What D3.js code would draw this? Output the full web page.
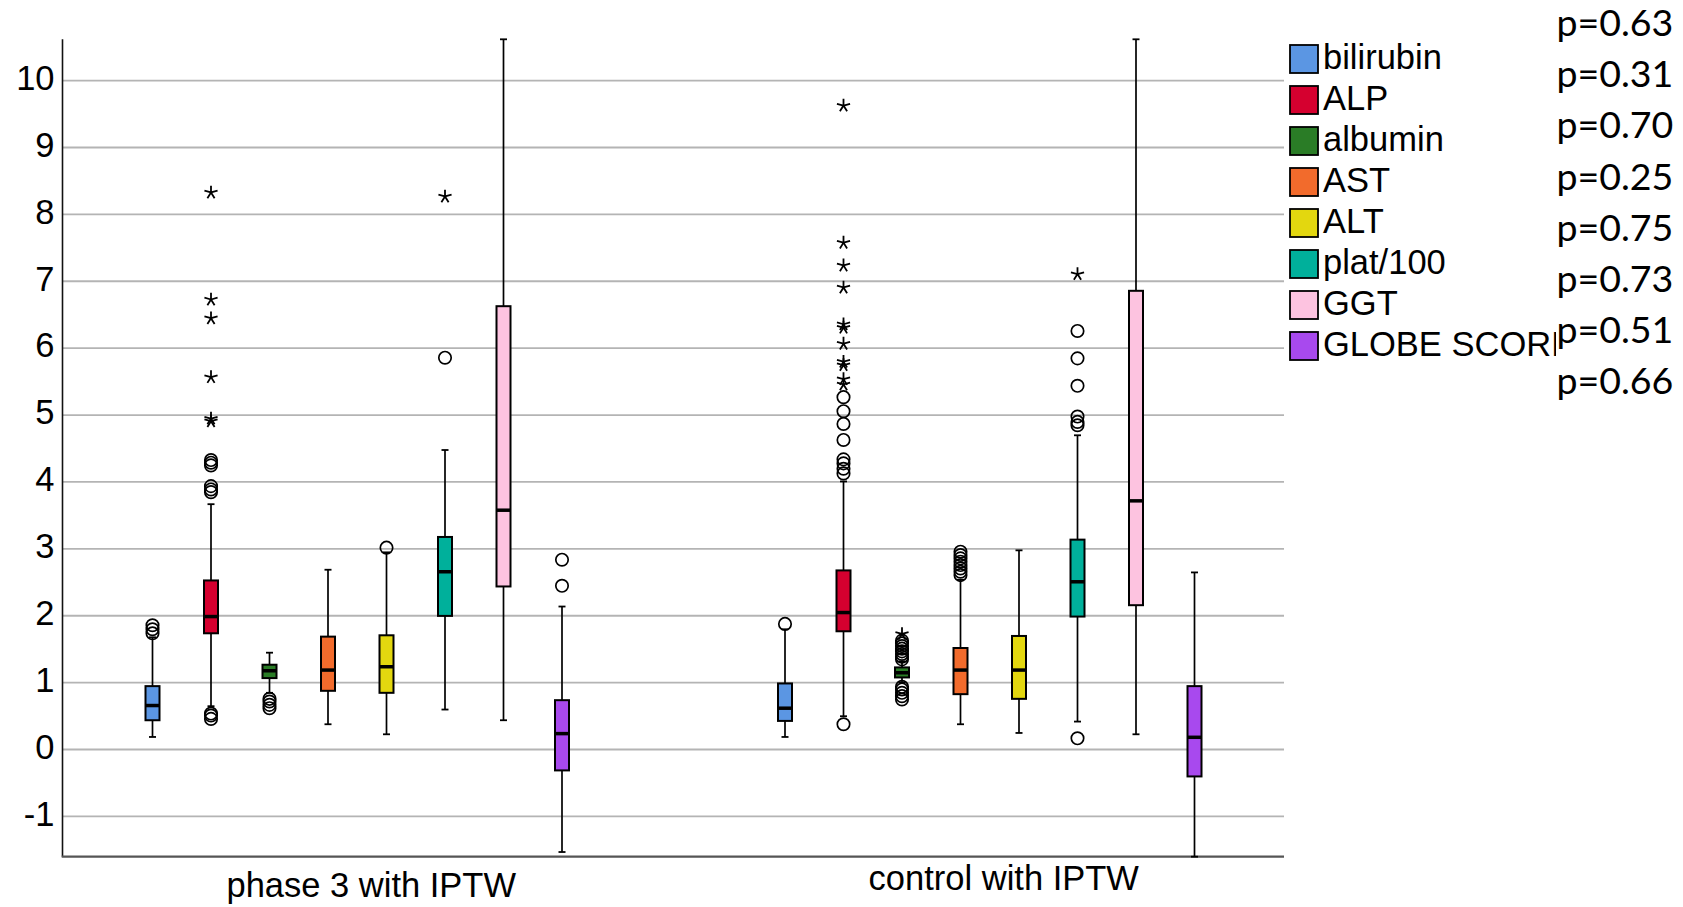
<!DOCTYPE html>
<html>
<head>
<meta charset="utf-8">
<script src="https://cdn.jsdelivr.net/npm/d3@7"></script>
<style>
    body { margin: 0; background: #fff; }
    svg { display: block; }
    .tick text { font-family: "Liberation Sans", Arial, sans-serif; font-size: 34.5px; fill: #000; }
</style>
</head>
<body>
<svg id="chart" width="1683" height="907"></svg>
<script>
/**
 * Chart data
 */
var groups = ["phase 3 with IPTW", "control with IPTW"];
var series = ["bilirubin", "ALP", "albumin", "AST", "ALT", "plat/100", "GGT", "GLOBE SCORE"];
var pValues = ["p=0.63", "p=0.31", "p=0.70", "p=0.25", "p=0.75", "p=0.73", "p=0.51", "p=0.66"];
var yTicks = [-1, 0, 1, 2, 3, 4, 5, 6, 7, 8, 9, 10];

// [lower whisker, q1, median, q3, upper whisker], one per series
var phase3Boxes = [
    [0.18, 0.43, 0.65, 0.94, 1.67],
    [0.64, 1.73, 1.98, 2.52, 3.66],
    [0.84, 1.06, 1.17, 1.26, 1.44],
    [0.37, 0.87, 1.18, 1.68, 2.68],
    [0.22, 0.84, 1.23, 1.70, 2.94],
    [0.59, 1.99, 2.65, 3.17, 4.47],
    [0.43, 2.43, 3.57, 6.62, 10.61],
    [-1.54, -0.32, 0.23, 0.73, 2.13]
];
var controlBoxes = [
    [0.18, 0.42, 0.61, 0.98, 1.79],
    [0.49, 1.76, 2.04, 2.67, 4.00],
    [0.99, 1.07, 1.14, 1.22, 1.31],
    [0.37, 0.82, 1.18, 1.51, 2.53],
    [0.24, 0.75, 1.18, 1.69, 2.97],
    [0.41, 1.98, 2.50, 3.13, 4.69],
    [0.22, 2.15, 3.71, 6.85, 10.61],
    [-1.61, -0.41, 0.175, 0.94, 2.64]
];

// circle outliers
var phase3Outliers = [
    [1.73, 1.79, 1.85],
    [0.45, 0.50, 0.53, 3.84, 3.88, 3.93, 4.24, 4.28, 4.32],
    [0.61, 0.66, 0.71, 0.75],
    [],
    [3.01],
    [5.85],
    [],
    [2.44, 2.83]
];
var controlOutliers = [
    [1.87],
    [0.37, 4.12, 4.19, 4.27, 4.33, 4.62, 4.86, 5.05, 5.26],
    [0.74, 0.79, 0.84, 0.89, 0.93, 1.34, 1.38, 1.42, 1.46, 1.50, 1.54, 1.58, 1.62],
    [2.60, 2.65, 2.70, 2.75, 2.80, 2.85, 2.90, 2.95],
    [],
    [0.16, 4.84, 4.89, 4.97, 5.43, 5.84, 6.25],
    [],
    []
];

// star (extreme) outliers
var phase3Extremes = [
    [], [4.90, 4.94, 5.56, 6.44, 6.72, 8.32], [], [], [], [8.26], [], []
];
var controlExtremes = [
    [], [5.45, 5.53, 5.74, 5.79, 6.06, 6.30, 6.35, 6.90, 7.23, 7.57, 9.62], [1.72], [], [], [7.10], [], []
];

var colors = ["#5b96e3", "#d5002f", "#2a7c26", "#f26b2c", "#e3d70f", "#00b09b", "#fdc3e0", "#a849ee"];

var boxesByGroup = [phase3Boxes, controlBoxes];
var outliersByGroup = [phase3Outliers, controlOutliers];
var extremesByGroup = [phase3Extremes, controlExtremes];

/**
 * Layout
 */
var plotLeft = 62.5, plotRight = 1284, plotTop = 39.3, plotBottom = 856.7;
var boxWidth = 14;
var capWidth = 7;
var catLabelY = [897, 890];
var fontMain = '"Liberation Sans", Arial, sans-serif';

var svg = d3.select("#chart");

var y = d3.scaleLinear()
    .domain([-1.61, 10.61])
    .range([plotBottom, plotTop]);

var x0 = d3.scaleBand()
    .domain(groups)
    .range([41, 1306]);

var x1 = d3.scaleBand()
    .domain(series)
    .range([-234, 234]);

function cx(g, s) {
    return x0(g) + x0.bandwidth() / 2 + x1(s) + x1.bandwidth() / 2;
}

// Gridlines
svg.append("g")
    .attr("transform", "translate(" + plotLeft + ",0)")
    .call(d3.axisLeft(y).tickValues(yTicks).tickSize(-(plotRight - plotLeft)).tickFormat(""))
    .call(function(g) {
        g.select(".domain").remove();
        g.selectAll(".tick line").attr("stroke", "#b4b4b4").attr("stroke-width", 1.8);
    });

// Tick labels (plain hyphen for negatives, as in the original)
svg.append("g")
    .attr("transform", "translate(" + plotLeft + ",0)")
    .call(d3.axisLeft(y).tickValues(yTicks).tickSize(0).tickPadding(8).tickFormat(function(d) { return String(d); }))
    .call(function(g) {
        g.select(".domain").remove();
        g.selectAll(".tick text").attr("dy", "0.27em");
    });

// Axis lines
svg.append("line")
    .attr("x1", plotLeft).attr("x2", plotLeft)
    .attr("y1", plotTop).attr("y2", plotBottom)
    .attr("stroke", "#111").attr("stroke-width", 1.6);

svg.append("line")
    .attr("x1", plotLeft - 0.8).attr("x2", plotRight)
    .attr("y1", plotBottom).attr("y2", plotBottom)
    .attr("stroke", "#555").attr("stroke-width", 2.2);

// Category labels
svg.selectAll(".cat-label")
    .data(groups)
    .enter().append("text")
    .attr("class", "cat-label")
    .attr("x", function(d) { return x0(d) + x0.bandwidth() / 2 + 14; })
    .attr("y", function(d, i) { return catLabelY[i]; })
    .attr("text-anchor", "middle")
    .style("font-family", fontMain)
    .style("font-size", "34.5px")
    .text(function(d) { return d; });

/**
 * Boxes
 */
function starPath(px, py, r) {
    var p = d3.path();
    [0, 75, -75, 148, -148].forEach(function(a) {
        var rad = a * Math.PI / 180;
        p.moveTo(px, py);
        p.lineTo(px + r * Math.sin(rad), py - r * Math.cos(rad));
    });
    return p.toString();
}

groups.forEach(function(g, gi) {
    series.forEach(function(s, si) {
        var b = boxesByGroup[gi][si];
        var xc = cx(g, s);
        var bg = svg.append("g").attr("class", "box-group");

        // whisker
        bg.append("line")
            .attr("x1", xc).attr("x2", xc)
            .attr("y1", y(b[0])).attr("y2", y(b[4]))
            .attr("stroke", "#000").attr("stroke-width", 1.7);
        [b[0], b[4]].forEach(function(v) {
            bg.append("line")
                .attr("x1", xc - capWidth / 2).attr("x2", xc + capWidth / 2)
                .attr("y1", y(v)).attr("y2", y(v))
                .attr("stroke", "#000").attr("stroke-width", 1.8);
        });

        // box
        bg.append("rect")
            .attr("x", xc - boxWidth / 2)
            .attr("y", y(b[3]))
            .attr("width", boxWidth)
            .attr("height", y(b[1]) - y(b[3]))
            .attr("fill", colors[si])
            .attr("stroke", "#000")
            .attr("stroke-width", 2);

        // median
        bg.append("line")
            .attr("x1", xc - boxWidth / 2).attr("x2", xc + boxWidth / 2)
            .attr("y1", y(b[2])).attr("y2", y(b[2]))
            .attr("stroke", "#000").attr("stroke-width", 3.5);

        // circle outliers
        bg.selectAll(".outlier")
            .data(outliersByGroup[gi][si])
            .enter().append("circle")
            .attr("class", "outlier")
            .attr("cx", xc)
            .attr("cy", function(d) { return y(d); })
            .attr("r", 6.2)
            .attr("fill", "none")
            .attr("stroke", "#000")
            .attr("stroke-width", 1.7);

        // extreme stars
        bg.selectAll(".extreme")
            .data(extremesByGroup[gi][si])
            .enter().append("path")
            .attr("class", "extreme")
            .attr("d", function(d) { return starPath(xc, y(d), 6.8); })
            .attr("stroke", "#000")
            .attr("stroke-width", 1.8)
            .attr("fill", "none");
    });
});

/**
 * Legend
 */
svg.append("clipPath")
    .attr("id", "legend-clip")
    .append("rect")
    .attr("x", 1280).attr("y", 0)
    .attr("width", 276).attr("height", 400);

var legend = svg.append("g")
    .attr("clip-path", "url(#legend-clip)");

var legendRow = legend.selectAll(".legend-row")
    .data(series)
    .enter().append("g")
    .attr("class", "legend-row")
    .attr("transform", function(d, i) { return "translate(1290," + (45 + i * 41) + ")"; });

legendRow.append("rect")
    .attr("width", 28)
    .attr("height", 28)
    .attr("fill", function(d, i) { return colors[i]; })
    .attr("stroke", "#000")
    .attr("stroke-width", 1.8);

legendRow.append("text")
    .attr("x", 33)
    .attr("y", 23.5)
    .style("font-family", fontMain)
    .style("font-size", "34.5px")
    .text(function(d) { return d; });

// p values
svg.selectAll(".p-value")
    .data(pValues)
    .enter().append("text")
    .attr("class", "p-value")
    .attr("x", 1556.5)
    .attr("y", function(d, i) { return 36 + i * 51.2; })
    .style("font-family", "Lato, Carlito, sans-serif")
    .style("font-size", "37.5px")
    .text(function(d) { return d; });
</script>
</body>
</html>
